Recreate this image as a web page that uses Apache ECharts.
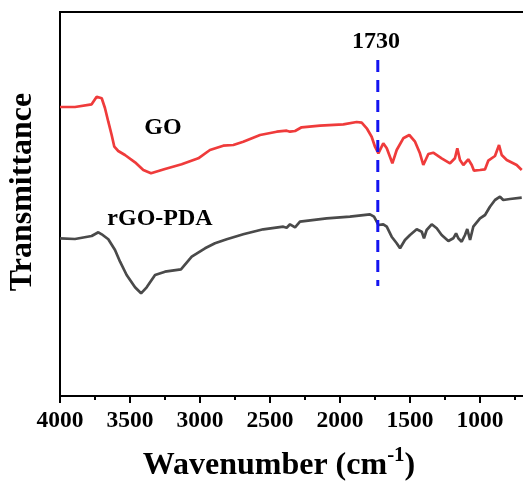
<!DOCTYPE html>
<html>
<head>
<meta charset="utf-8">
<script src="https://cdn.jsdelivr.net/npm/echarts@6/dist/echarts.min.js"></script>
<style>html,body{margin:0;padding:0;background:#fff;}#c{width:523px;height:482px;}</style>
</head>
<body>
<div id="c"></div>
<script>
// Wavenumbers (cm^-1) and transmittance (arbitrary units, offset traces)
var goWave = [4000,3893,3774,3738,3726,3702,3679,3655,3631,3612,3584,3536,3464,3405,3350,3250,3131,3012,2929,2834,2762,2691,2571,2452,2381,2357,2321,2274,2143,1976,1881,1845,1809,1774,1750,1726,1691,1666,1626,1595,1548,1505,1464,1429,1405,1369,1334,1274,1214,1179,1162,1143,1119,1084,1059,1043,1000,964,941,893,864,845,809,738,702];
var goT = [289,289,291.7,299.3,300.3,297.7,288,274.3,261,249.3,245,241,233.7,226,222.7,227,231.7,237.7,246,250.3,251,254.3,261,264.3,265.3,264.3,265,268.7,270.3,271.7,274,273.3,267.7,259.3,249.3,242.7,252.7,247.7,232.7,246,257.7,261,254.3,242.7,231,242,243.3,237.7,232.7,237.7,247.7,236,231,236.7,231,225.3,226,226.7,235.3,240,251,241,236,231,226];
var rgoWave = [4000,3893,3774,3726,3702,3655,3607,3571,3524,3464,3421,3381,3321,3250,3136,3059,2964,2893,2809,2691,2548,2405,2381,2357,2321,2286,2095,1929,1786,1757,1738,1726,1691,1666,1631,1595,1571,1536,1500,1452,1416,1400,1381,1345,1309,1274,1226,1191,1171,1155,1131,1107,1091,1071,1048,1000,964,929,893,857,834,786,702];
var rgoT = [157.7,157,160,163.7,161.7,156.7,146,134.3,121,108.7,102.7,108.7,121,124.3,126.7,139.3,147.7,152.7,156.7,161.7,166.7,169.3,168.3,171.7,168.7,174.3,177.7,179.3,181.7,179.3,174.3,171,171.7,169.3,159.3,152.7,147.7,156,161,166.7,164.3,157.7,166,171.7,167.7,161,155,157.7,162.7,157.7,154.3,161,167,156,169.3,177.7,181,189.3,196,199.3,196,197,198.3];
var markWave = [1730, 1730];
var markT = [336, 110];
var xTicks = [4000,3500,3000,2500,2000,1500,1000];
var seriesNames = ['GO', 'rGO-PDA'];
var markLabel = '1730';

function pairs(xs, ys){ return xs.map(function(x,i){ return [x, ys[i]]; }); }

var FONT = '"Liberation Serif","Times New Roman",serif';
var chart = echarts.init(document.getElementById('c'), null, {renderer:'canvas'});
chart.setOption({
  animation: false,
  backgroundColor: '#ffffff',
  grid: {left: 60, top: 12, right: -27, bottom: 86, show: true, borderColor: '#000', borderWidth: 2,
         backgroundColor: 'transparent', containLabel: false, outerBoundsMode: 'none'},
  xAxis: {
    type: 'value', min: 500, max: 4000, interval: 500, inverse: true,
    axisLine: {show: true, onZero: false, lineStyle: {color: '#000', width: 2}},
    axisTick: {show: true, length: 7, lineStyle: {color: '#000', width: 2}},
    minorTick: {show: true, splitNumber: 2, length: 4, lineStyle: {color: '#000', width: 2}},
    splitLine: {show: false},
    axisLabel: {color: '#000', fontSize: 23.5, fontWeight: 'bold', fontFamily: FONT, margin: 13,
      formatter: function(v){ return xTicks.indexOf(v) >= 0 ? String(v) : ''; }},
    name: '{a|Wavenumber (cm}{b|-1}{a|)}',
    nameLocation: 'middle', nameGap: 49,
    nameTextStyle: {padding: [0, 52, 0, 0], rich: {
      a: {fontSize: 32, fontWeight: 'bold', fontFamily: FONT, color: '#000'},
      b: {fontSize: 21, fontWeight: 'bold', fontFamily: FONT, color: '#000', padding: [0,0,20,0]}
    }}
  },
  yAxis: {
    type: 'value', min: 0, max: 384,
    axisLine: {show: true, lineStyle: {color: '#000', width: 2}},
    axisTick: {show: false}, axisLabel: {show: false}, splitLine: {show: false}
  },
  series: [
    {name: seriesNames[0], type: 'line', data: pairs(goWave, goT), showSymbol: false, smooth: false,
     lineStyle: {color: '#ef3b3b', width: 2.7}, itemStyle: {color: '#ef3b3b'}, z: 3},
    {name: seriesNames[1], type: 'line', data: pairs(rgoWave, rgoT), showSymbol: false, smooth: false,
     lineStyle: {color: '#4a4a4a', width: 2.7}, itemStyle: {color: '#4a4a4a'}, z: 3},
    {name: markLabel, type: 'line', data: pairs(markWave, markT), showSymbol: false,
     lineStyle: {color: '#1414f0', width: 3, type: [12, 8]}, z: 4}
  ],
  graphic: [
    {type: 'text', x: 23, y: 192, rotation: Math.PI/2,
     style: {text: 'Transmittance', font: 'bold 32px ' + FONT, fill: '#000', align: 'center', verticalAlign: 'middle'}},
    {type: 'text', x: 376, y: 42,
     style: {text: markLabel, font: 'bold 24px ' + FONT, fill: '#000', align: 'center', verticalAlign: 'middle'}},
    {type: 'text', x: 163, y: 128,
     style: {text: seriesNames[0], font: 'bold 24px ' + FONT, fill: '#000', align: 'center', verticalAlign: 'middle'}},
    {type: 'text', x: 160, y: 219,
     style: {text: seriesNames[1], font: 'bold 24px ' + FONT, fill: '#000', align: 'center', verticalAlign: 'middle'}}
  ]
});
</script>
</body>
</html>
